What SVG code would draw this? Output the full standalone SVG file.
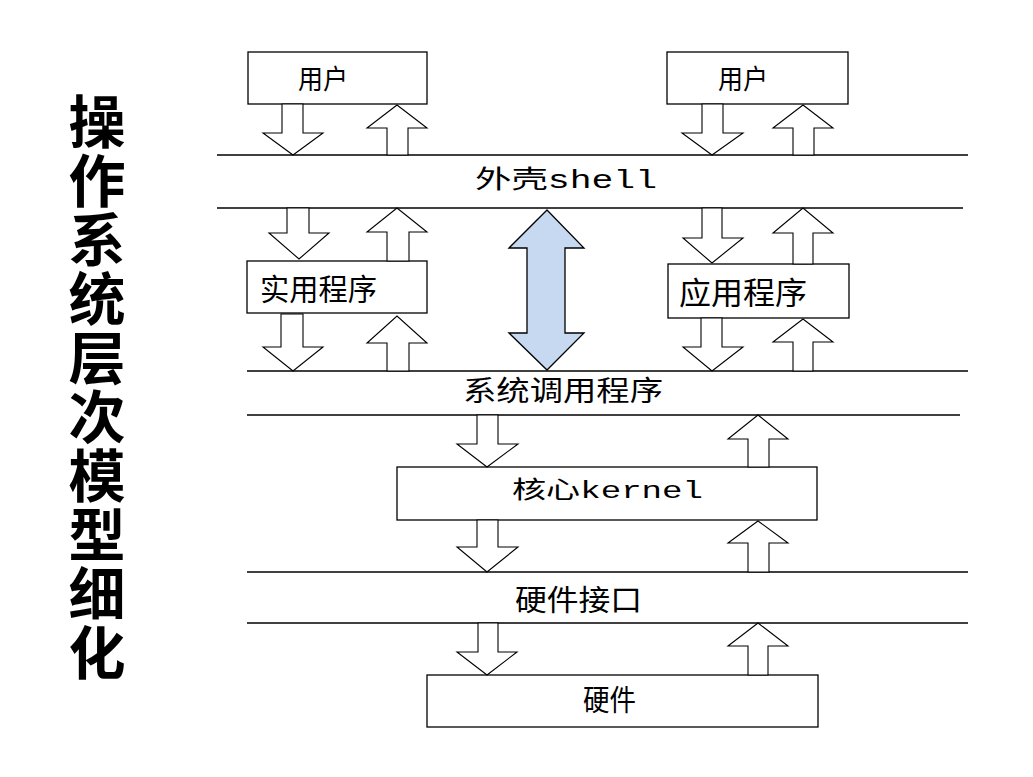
<svg xmlns="http://www.w3.org/2000/svg" width="1033" height="777" viewBox="0 0 1033 777">
<style>
.ln{stroke:#000;stroke-width:1.3;fill:none}
.bx{fill:#fff;stroke:#000;stroke-width:1.3}
.ar{fill:#fff;stroke:#000;stroke-width:1.1;stroke-linejoin:miter}
.big{fill:#c6d9f0;stroke:#000;stroke-width:1.3}
.t{font-family:"Liberation Mono","Noto Sans CJK SC",monospace;fill:#000}
.title{font-family:"Noto Sans CJK SC",sans-serif;font-weight:bold;font-size:57px;fill:#000}
</style>
<rect width="1033" height="777" fill="#fff"/>
<g id="title">
<text class="title" text-anchor="middle"><tspan x="97" y="143">操</tspan><tspan x="97" y="202">作</tspan><tspan x="97" y="261">系</tspan><tspan x="97" y="320">统</tspan><tspan x="97" y="379">层</tspan><tspan x="97" y="438">次</tspan><tspan x="97" y="497">模</tspan><tspan x="97" y="556">型</tspan><tspan x="97" y="615">细</tspan><tspan x="97" y="674">化</tspan></text>
</g>
<g id="layers">
<line class="ln" x1="217" y1="155" x2="968" y2="155"/>
<line class="ln" x1="217" y1="208" x2="963" y2="208"/>
<line class="ln" x1="247" y1="371" x2="968" y2="371"/>
<line class="ln" x1="247" y1="415" x2="960" y2="415"/>
<line class="ln" x1="247" y1="572" x2="968" y2="572"/>
<line class="ln" x1="247" y1="623" x2="968" y2="623"/>
</g>
<g id="shell"><text class="t" x="475" y="188" font-size="25" textLength="182" lengthAdjust="spacingAndGlyphs">外壳shell</text></g>
<g id="syscall"><text class="t" x="463" y="401" font-size="28" textLength="200" lengthAdjust="spacingAndGlyphs">系统调用程序</text></g>
<g id="hwif"><text class="t" x="515" y="611" font-size="29" textLength="127" lengthAdjust="spacingAndGlyphs">硬件接口</text></g>
<g id="user1"><rect class="bx" x="248" y="52" width="179" height="52"/><text class="t" x="298" y="89" font-size="27" textLength="50" lengthAdjust="spacingAndGlyphs">用户</text></g>
<g id="user2"><rect class="bx" x="667" y="52" width="181" height="52"/><text class="t" x="718" y="89" font-size="27" textLength="50" lengthAdjust="spacingAndGlyphs">用户</text></g>
<g id="util"><rect class="bx" x="247" y="261" width="180" height="52"/><text class="t" x="260" y="300" font-size="30" textLength="117" lengthAdjust="spacingAndGlyphs">实用程序</text></g>
<g id="app"><rect class="bx" x="668" y="264" width="181" height="54"/><text class="t" x="679" y="304" font-size="31" textLength="128" lengthAdjust="spacingAndGlyphs">应用程序</text></g>
<g id="kernel"><rect class="bx" x="397" y="467" width="420" height="53"/><text class="t" x="512" y="498" font-size="24" textLength="191" lengthAdjust="spacingAndGlyphs">核心kernel</text></g>
<g id="hw"><rect class="bx" x="427" y="675" width="391" height="52"/><text class="t" x="583" y="711" font-size="29" textLength="53" lengthAdjust="spacingAndGlyphs">硬件</text></g>
<g id="connectors">
<polygon class="ar" points="282,104 303,104 303,133 323,133 293,155 263,133 282,133"/>
<polygon class="ar" points="702,104 723,104 723,133 743,133 712,155 682,133 702,133"/>
<polygon class="ar" points="287,208 309,208 309,233 329,233 299,259 269,233 287,233"/>
<polygon class="ar" points="281,314 303,314 303,347 323,347 293,371 263,347 281,347"/>
<polygon class="ar" points="702,208 722,208 722,238 743,238 712,263 683,238 702,238"/>
<polygon class="ar" points="701,318 722,318 722,347 743,347 712,371 683,347 701,347"/>
<polygon class="ar" points="477,415 498,415 498,444 518,444 487,467 457,444 477,444"/>
<polygon class="ar" points="477,520 498,520 498,547 518,547 487,572 457,547 477,547"/>
<polygon class="ar" points="478,623 498,623 498,652 517,652 487,675 457,652 478,652"/>
<polygon class="ar" points="387,155 408,155 408,128 427,128 397,105 367,128 387,128"/>
<polygon class="ar" points="793,155 814,155 814,128 833,128 803,105 773,128 793,128"/>
<polygon class="ar" points="387,261 409,261 409,232 427,232 397,208 367,232 387,232"/>
<polygon class="ar" points="387,371 409,371 409,343 427,343 397,316 367,343 387,343"/>
<polygon class="ar" points="793,264 813,264 813,233 833,233 803,208 773,233 793,233"/>
<polygon class="ar" points="793,371 813,371 813,342 833,342 803,319 773,342 793,342"/>
<polygon class="ar" points="748,467 769,467 769,439 788,439 758,415 728,439 748,439"/>
<polygon class="ar" points="748,572 769,572 769,543 788,543 758,521 728,543 748,543"/>
<polygon class="ar" points="748,675 768,675 768,646 788,646 758,623 728,646 748,646"/>
<polygon class="big" points="547,210 584,248 565,248 565,333 584,333 547,370 509,333 527,333 527,248 509,248"/>
</g>
</svg>
